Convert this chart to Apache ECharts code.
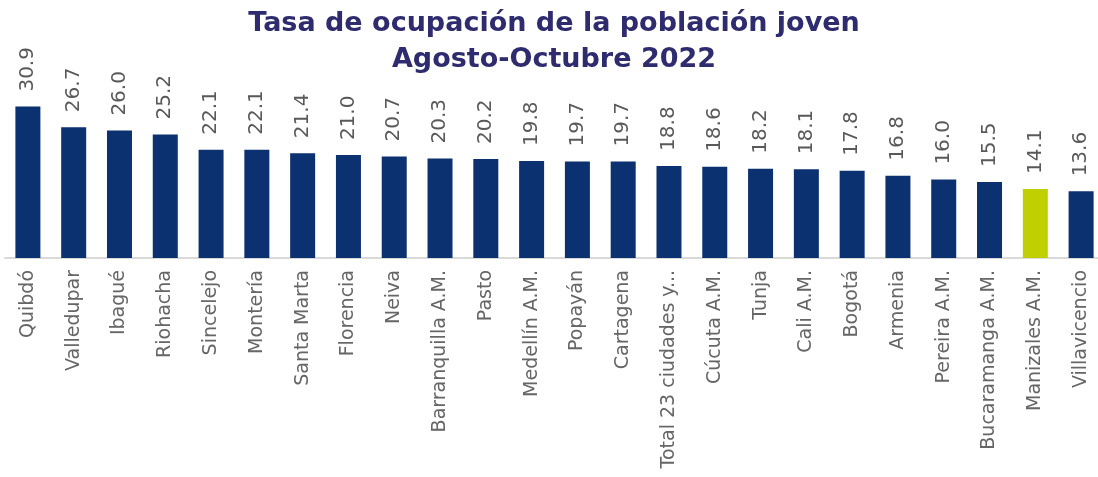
<!DOCTYPE html>
<html>
<head>
<meta charset="utf-8">
<script src="https://cdn.jsdelivr.net/npm/echarts@6/dist/echarts.min.js"></script>
<style>
  html, body { margin: 0; padding: 0; background: #fff; }
  #chart { width: 1098px; height: 477px; }
</style>
</head>
<body>
<div id="chart"></div>
<script>
// datos
var ciudades = ['Quibdó', 'Valledupar', 'Ibagué', 'Riohacha', 'Sincelejo', 'Montería', 'Santa Marta',
  'Florencia', 'Neiva', 'Barranquilla A.M.', 'Pasto', 'Medellín A.M.', 'Popayán', 'Cartagena',
  'Total 23 ciudades y áreas metropolitanas', 'Cúcuta A.M.', 'Tunja', 'Cali A.M.', 'Bogotá', 'Armenia',
  'Pereira A.M.', 'Bucaramanga A.M.', 'Manizales A.M.', 'Villavicencio'];
var tasa = [30.9, 26.7, 26.0, 25.2, 22.1, 22.1, 21.4, 21.0, 20.7, 20.3, 20.2, 19.8, 19.7, 19.7,
  18.8, 18.6, 18.2, 18.1, 17.8, 16.8, 16.0, 15.5, 14.1, 13.6];
var destacada = 'Manizales A.M.';

var chart = echarts.init(document.getElementById('chart'));
chart.setOption({
  backgroundColor: '#fff',
  animation: false,
  title: {
    text: 'Tasa de ocupación de la población joven\nAgosto-Octubre 2022',
    left: 549,
    textAlign: 'center',
    top: 1,
    textStyle: {
      fontFamily: 'DejaVu Sans',
      fontWeight: 'bold',
      fontSize: 27,
      lineHeight: 36,
      color: '#2e2b6e'
    }
  },
  grid: { left: 5, width: 1099, top: 62, height: 196, containLabel: false, outerBoundsMode: 'none' },
  xAxis: {
    type: 'category',
    data: ciudades,
    axisLine: { lineStyle: { color: '#d9d9d9', width: 2 } },
    axisTick: { show: false },
    axisLabel: {
      rotate: 90,
      margin: 12,
      interval: 0,
      fontFamily: 'DejaVu Sans',
      fontSize: 19,
      color: '#666666',
      width: 206,
      overflow: 'truncate',
      ellipsis: '...'
    }
  },
  yAxis: { type: 'value', min: 0, max: 40, show: false },
  series: [{
    type: 'bar',
    barWidth: 25,
    data: tasa.map(function (v, i) {
      return {
        value: v,
        itemStyle: { color: ciudades[i] === destacada ? '#bfcf00' : '#0b3170' }
      };
    }),
    label: {
      show: true,
      position: 'top',
      rotate: 90,
      align: 'left',
      verticalAlign: 'middle',
      distance: 15,
      fontFamily: 'DejaVu Sans',
      fontSize: 20,
      color: '#595959',
      formatter: function (p) { return p.value.toFixed(1); }
    }
  }]
});
</script>
</body>
</html>
